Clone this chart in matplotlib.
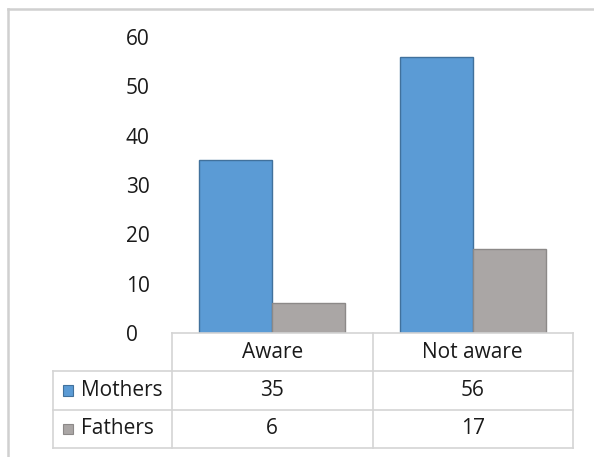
import matplotlib
matplotlib.use("Agg")
import matplotlib.pyplot as plt
from matplotlib.lines import Line2D
from matplotlib.patches import Rectangle

categories = ["Aware", "Not aware"]
series_names = ["Mothers", "Fathers"]
mothers = [35, 56]
fathers = [6, 17]
yticks = [0, 10, 20, 30, 40, 50, 60]

colors = ["#5b9bd5", "#aaa6a5"]
edges = ["#41719c", "#8c8988"]
text_color = "#1a1a1a"
grid_color = "#d4d4d4"

plt.rcParams['font.family'] = ['Open Sans', 'DejaVu Sans']
FS = 15
FS_Y = 15

W, H = 594, 457
fig = plt.figure(figsize=(W / 100, H / 100), dpi=100)

def fx(px):
    return px / W

def fy(py):
    return 1 - py / H

# main axes: x 172..573, y 37 (60) .. 333 (0)
ax = fig.add_axes([fx(172), fy(333), fx(573) - fx(172), fy(37) - fy(333)])
ax.set_xlim(-0.5, len(categories) - 0.5)
ax.set_ylim(0, 60)
bw = 0.364
xs = list(range(len(categories)))
ax.bar([x - bw / 2 for x in xs], mothers, width=bw, color=colors[0], edgecolor=edges[0], linewidth=1)
ax.bar([x + bw / 2 for x in xs], fathers, width=bw, color=colors[1], edgecolor=edges[1], linewidth=1)
for s in ax.spines.values():
    s.set_visible(False)
ax.set_xticks([])
ax.set_yticks(yticks)
ax.set_yticklabels([str(v) for v in yticks], fontsize=FS_Y, color=text_color)
ax.tick_params(axis='y', length=0, pad=46 * 0.72)
for lab in ax.get_yticklabels():
    lab.set_horizontalalignment('left')
ax.patch.set_alpha(0)

# table axes: x 53..573, y 333..448
label_w = (172 - 53) / 200.5
tax = fig.add_axes([fx(53), fy(448), fx(573) - fx(53), fy(333) - fy(448)])
x0 = -0.5 - label_w
tax.set_xlim(x0, len(categories) - 0.5)
tax.set_ylim(3, 0)
tax.axis('off')
lw = 1.2
kw = dict(color=grid_color, lw=lw, clip_on=False)
tax.plot([-0.5, 1.5], [0, 0], **kw)
for r in [1, 2, 3]:
    tax.plot([x0, 1.5], [r, r], **kw)
tax.plot([x0, x0], [1, 3], **kw)
for xv in [-0.5, 0.5, 1.5]:
    tax.plot([xv, xv], [0, 3], **kw)

for i, c in enumerate(categories):
    tax.text(i, 0.5, c, ha='center', va='center', fontsize=FS, color=text_color)
rows = [mothers, fathers]
for r, (name, vals) in enumerate(zip(series_names, rows)):
    yc = r + 1.5
    for i, v in enumerate(vals):
        tax.text(i, yc, str(v), ha='center', va='center', fontsize=FS, color=text_color)
    tax.text(x0 + 28 / 200.5, yc, name, ha='left', va='center', fontsize=FS, color=text_color)
    # legend key square (~10px)
    sq_w = 10 / 200.5
    sq_h = 10 / 38.3
    tax.add_patch(Rectangle((x0 + 10 / 200.5, yc - sq_h / 2), sq_w, sq_h,
                            facecolor=colors[r], edgecolor=edges[r], lw=0.8, clip_on=False))

# figure border lines (top and left)
fig.add_artist(Line2D([fx(8), 1], [fy(9), fy(9)], color="#d0d0d0", lw=1.8, transform=fig.transFigure))
fig.add_artist(Line2D([fx(8), fx(8)], [fy(9), 0], color="#d0d0d0", lw=1.8, transform=fig.transFigure))

fig.savefig("out.png", dpi=100, facecolor="white")
